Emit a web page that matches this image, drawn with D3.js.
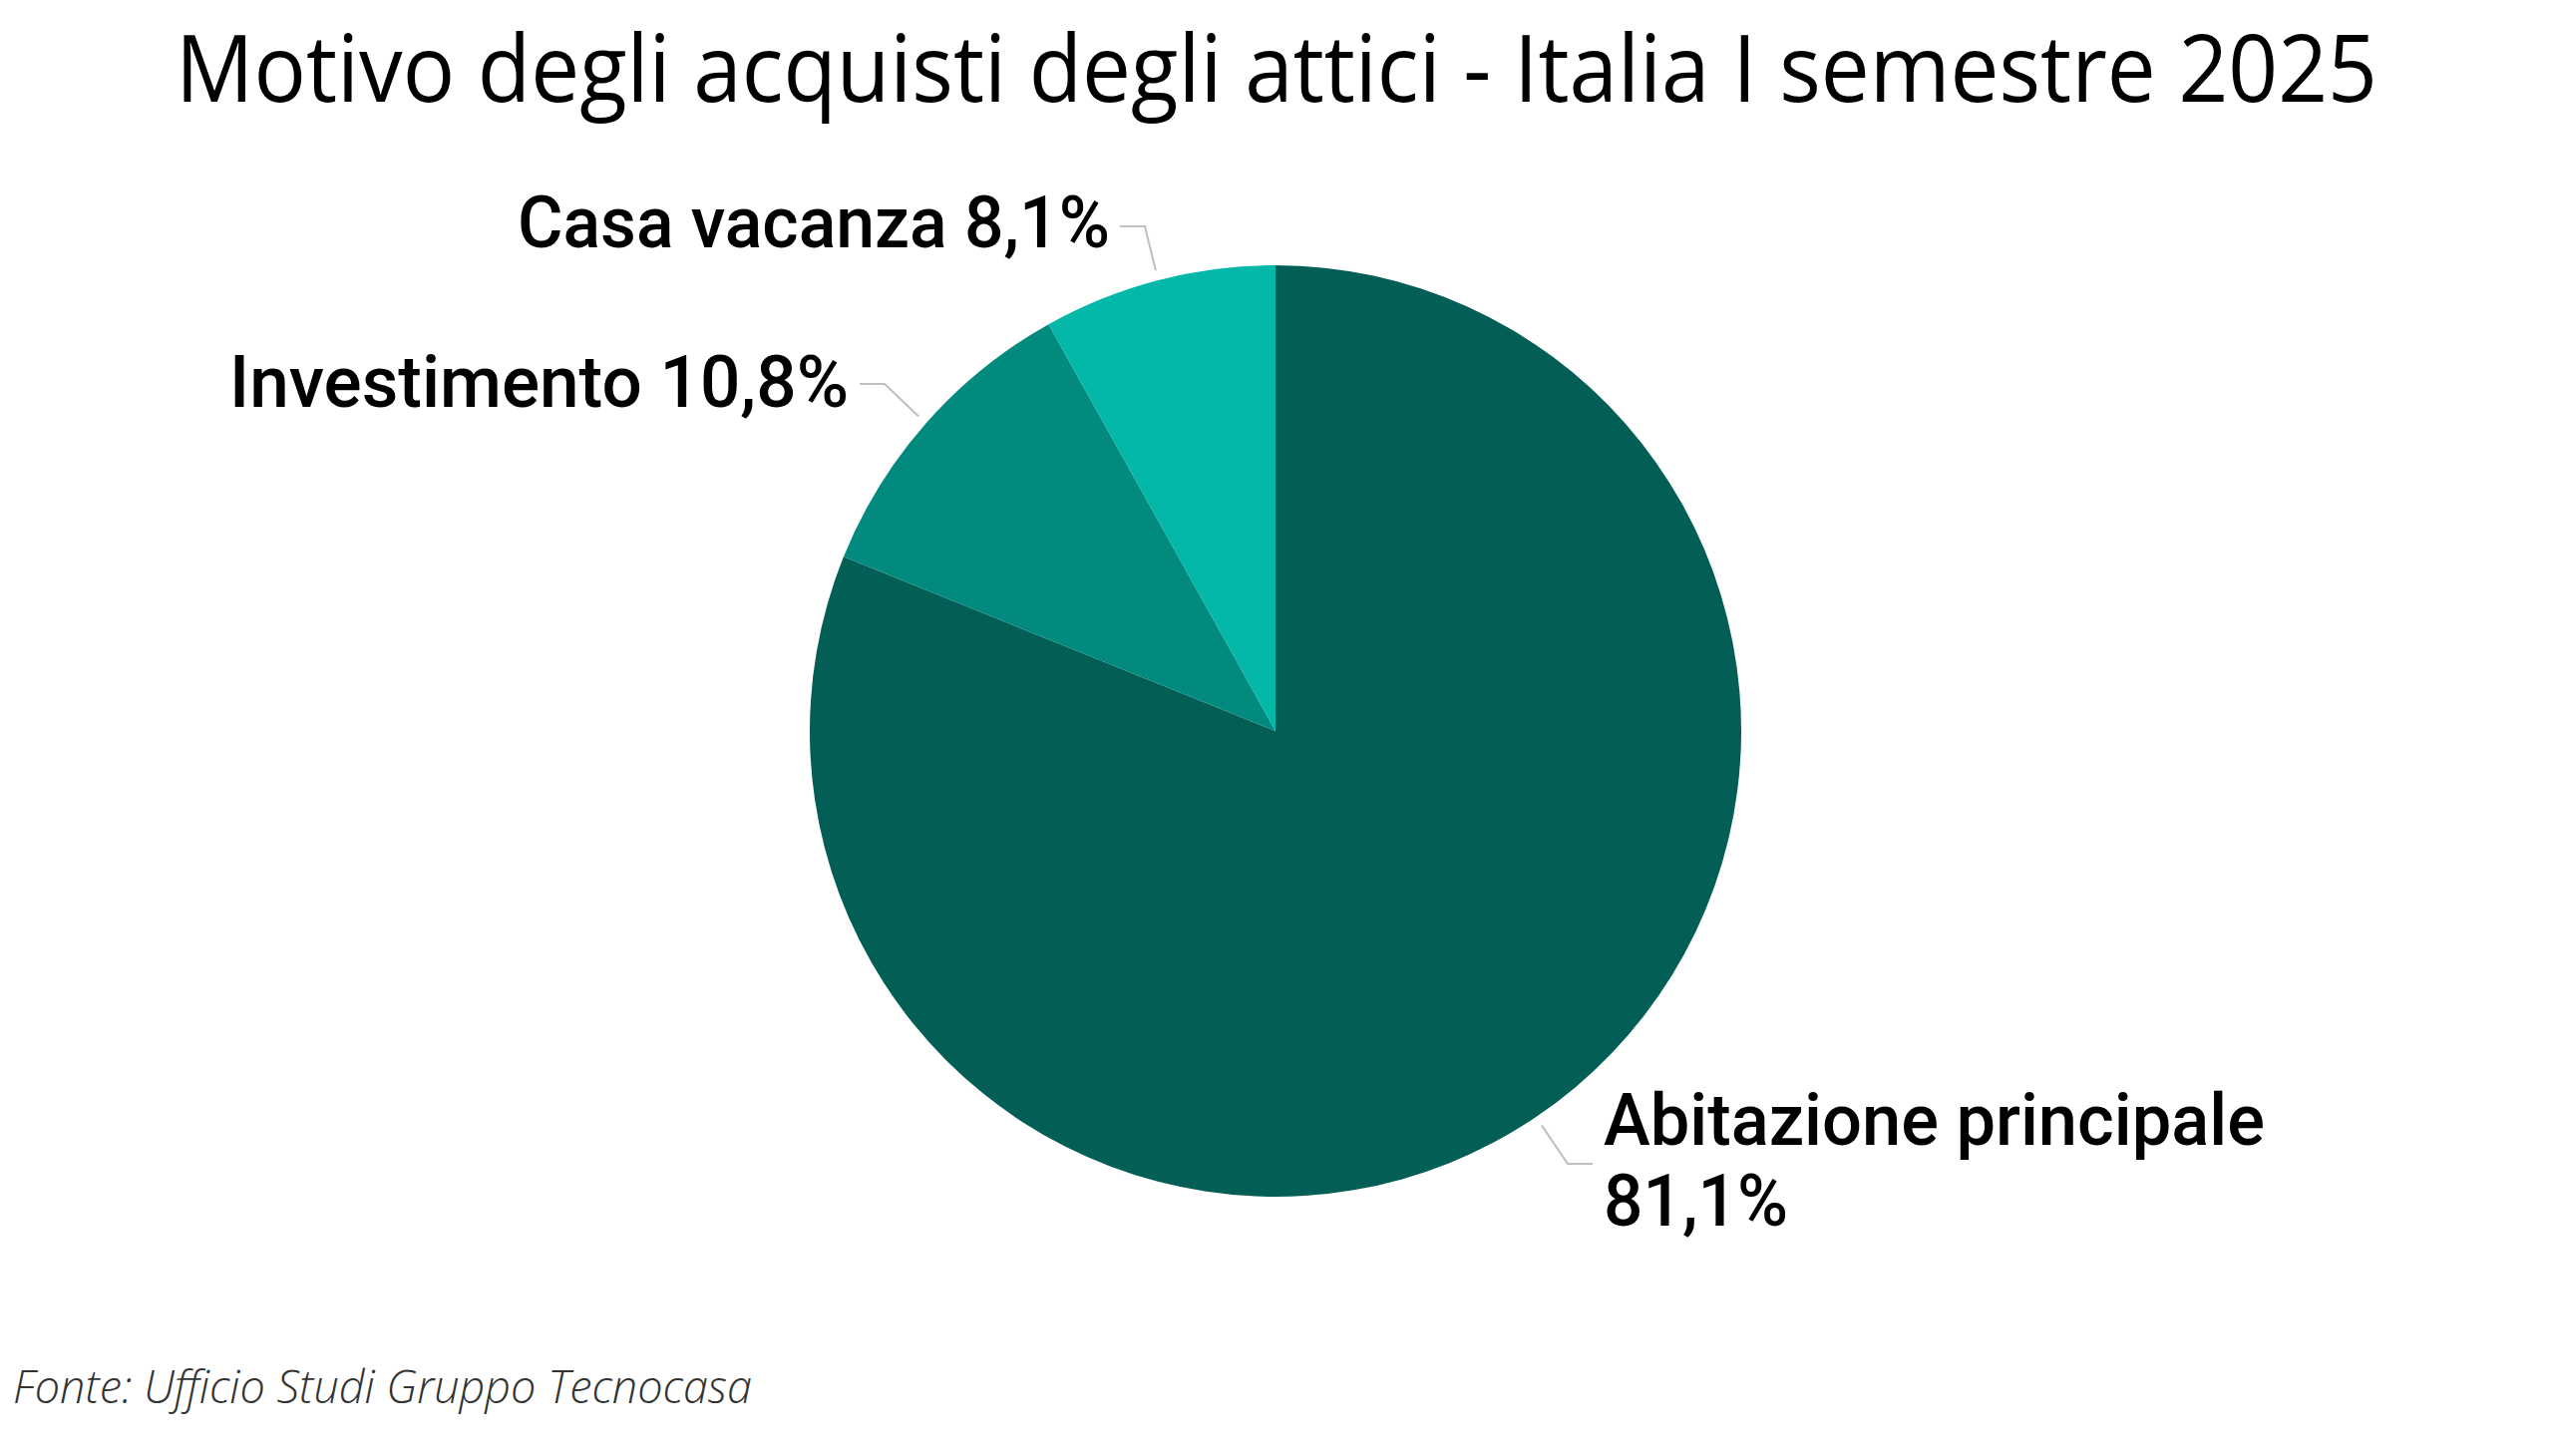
<!DOCTYPE html>
<html>
<head>
<meta charset="utf-8">
<script src="https://cdn.jsdelivr.net/npm/d3@7/dist/d3.min.js"></script>
<style>
html,body{margin:0;padding:0;background:#fff;}
svg{display:block;}
</style>
</head>
<body>
<script>
// ---- data ----
const categories = ["Abitazione principale", "Investimento", "Casa vacanza"];
const values = [81.1, 10.8, 8.1];
const valueLabels = ["81,1%", "10,8%", "8,1%"];
const colors = ["#035e56", "#038a7f", "#03b7a9"];
const titleText = "Motivo degli acquisti degli attici - Italia I semestre 2025";
const sourceText = "Fonte: Ufficio Studi Gruppo Tecnocasa";

// ---- layout ----
const W = 2560, H = 1460;
const cx = 1279, cy = 733, R = 467;

const svg = d3.select("body").append("svg").attr("width", W).attr("height", H);

function fit(sel, w){ sel.attr("textLength", w).attr("lengthAdjust", "spacingAndGlyphs"); }

// title
svg.append("text").attr("x", 176).attr("y", 102)
  .attr("font-family", "'Open Sans', sans-serif").attr("font-size", 94).attr("font-weight", 400)
  .attr("fill", "#000").text(titleText).call(fit, 2208);

// pie
const data = categories.map((c, i) => ({cat: c, value: values[i], label: valueLabels[i], color: colors[i]}));
const pie = d3.pie().value(d => d.value).sort(null);
const arcs = pie(data);
const arc = d3.arc().innerRadius(0).outerRadius(R);
const g = svg.append("g").attr("transform", `translate(${cx},${cy})`);
g.selectAll("path").data(arcs).enter().append("path")
  .attr("d", arc).attr("fill", d => d.data.color);

// labels
const lineArc = d3.arc().innerRadius(R + 10).outerRadius(R + 10);
const labelLayout = [
  {elbow: [1572 - cx, 1167 - cy], end: [1597 - cx, 1167 - cy], anchor: "start",
   lines: [[1608, 1148], [1608, 1229]], widths: [663, 185]},
  {elbow: [887 - cx, 385 - cy], end: [862 - cx, 385 - cy], anchor: "end",
   lines: [[851, 408]], widths: [621]},
  {elbow: [1148 - cx, 227 - cy], end: [1123 - cx, 227 - cy], anchor: "end",
   lines: [[1113, 248]], widths: [594]}
];

arcs.forEach((a, i) => {
  const L = labelLayout[i];
  const p0 = lineArc.centroid(a);
  g.append("polyline")
    .attr("points", [p0, L.elbow, L.end].map(p => p.join(",")).join(" "))
    .attr("fill", "none").attr("stroke", "#bfbfbf").attr("stroke-width", 2);
  const texts = i === 0 ? [a.data.cat, a.data.label] : [a.data.cat + " " + a.data.label];
  texts.forEach((t, k) => {
    svg.append("text").attr("x", L.lines[k][0]).attr("y", L.lines[k][1])
      .attr("text-anchor", L.anchor)
      .attr("font-family", "Roboto, sans-serif").attr("font-size", 72).attr("font-weight", 500)
      .attr("fill", "#000").text(t).call(fit, L.widths[k]);
  });
});

// source
svg.append("text").attr("x", 13).attr("y", 1407)
  .attr("font-family", "'Open Sans', sans-serif").attr("font-size", 46).attr("font-style", "italic").attr("font-weight", 300)
  .attr("fill", "#333333").text(sourceText).call(fit, 741);
</script>
</body>
</html>
